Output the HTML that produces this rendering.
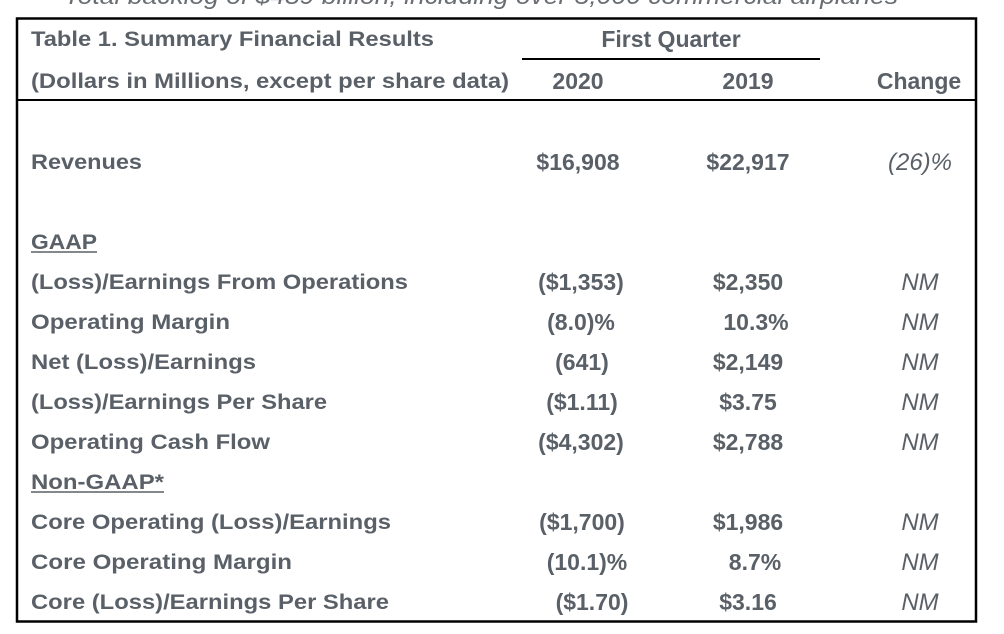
<!DOCTYPE html>
<html><head><meta charset="utf-8"><style>
html,body{margin:0;padding:0;background:#fff;width:1004px;height:634px;overflow:hidden}
svg{display:block}
text{font-family:"Liberation Sans",Arial,sans-serif;fill:#5a6067;font-weight:bold;font-size:23px}
.l{font-size:21.5px}
.i{font-style:italic;font-weight:normal;font-size:24px}
.m{text-anchor:middle}
</style></head><body>
<svg width="1004" height="634" viewBox="0 0 1004 634">
<text class="i" x="40" y="4" style="fill:#6a6e73">•</text>
<text class="i" x="64" y="4" textLength="834" lengthAdjust="spacingAndGlyphs" style="fill:#6a6e73">Total backlog of $489 billion, including over 5,000 commercial airplanes</text>
<rect x="17" y="18.5" width="959" height="603" fill="none" stroke="#000" stroke-width="2.5"/>
<line x1="17" y1="100" x2="976" y2="100" stroke="#000" stroke-width="2"/>
<line x1="522" y1="59" x2="820" y2="59" stroke="#000" stroke-width="2"/>
<text class="l" x="31" y="46" textLength="403" lengthAdjust="spacingAndGlyphs">Table 1. Summary Financial Results</text>
<text class="m" x="671" y="47">First Quarter</text>
<text class="l" x="31" y="88" textLength="478" lengthAdjust="spacingAndGlyphs">(Dollars in Millions, except per share data)</text>
<text class="m" x="578" y="89">2020</text>
<text class="m" x="748" y="89">2019</text>
<text class="m" x="919" y="89">Change</text>

<text class="l" x="31" y="169" textLength="111" lengthAdjust="spacingAndGlyphs">Revenues</text>
<text class="m" x="578" y="170">$16,908</text>
<text class="m" x="748" y="170">$22,917</text>
<text class="i m" x="920" y="170">(26)%</text>

<text class="l" x="31" y="249" textLength="66" lengthAdjust="spacingAndGlyphs">GAAP</text>
<line x1="31" y1="252" x2="97" y2="252" stroke="#5a6067" stroke-width="1.5"/>

<text class="l" x="31" y="289" textLength="377" lengthAdjust="spacingAndGlyphs">(Loss)/Earnings From Operations</text>
<text class="m" x="581" y="290">($1,353)</text>
<text class="m" x="748" y="290">$2,350</text>
<text class="i m" x="920" y="290">NM</text>

<text class="l" x="31" y="329" textLength="199" lengthAdjust="spacingAndGlyphs">Operating Margin</text>
<text class="m" x="581" y="330">(8.0)%</text>
<text class="m" x="756" y="330">10.3%</text>
<text class="i m" x="920" y="330">NM</text>

<text class="l" x="31" y="369" textLength="225" lengthAdjust="spacingAndGlyphs">Net (Loss)/Earnings</text>
<text class="m" x="582" y="370">(641)</text>
<text class="m" x="748" y="370">$2,149</text>
<text class="i m" x="920" y="370">NM</text>

<text class="l" x="31" y="409" textLength="296" lengthAdjust="spacingAndGlyphs">(Loss)/Earnings Per Share</text>
<text class="m" x="582" y="410">($1.11)</text>
<text class="m" x="748" y="410">$3.75</text>
<text class="i m" x="920" y="410">NM</text>

<text class="l" x="31" y="449" textLength="239" lengthAdjust="spacingAndGlyphs">Operating Cash Flow</text>
<text class="m" x="581" y="450">($4,302)</text>
<text class="m" x="748" y="450">$2,788</text>
<text class="i m" x="920" y="450">NM</text>

<text class="l" x="31" y="489" textLength="133" lengthAdjust="spacingAndGlyphs">Non-GAAP*</text>
<line x1="31" y1="492" x2="164" y2="492" stroke="#5a6067" stroke-width="1.5"/>

<text class="l" x="31" y="529" textLength="360" lengthAdjust="spacingAndGlyphs">Core Operating (Loss)/Earnings</text>
<text class="m" x="582" y="530">($1,700)</text>
<text class="m" x="748" y="530">$1,986</text>
<text class="i m" x="920" y="530">NM</text>

<text class="l" x="31" y="569" textLength="261" lengthAdjust="spacingAndGlyphs">Core Operating Margin</text>
<text class="m" x="587" y="570">(10.1)%</text>
<text class="m" x="755" y="570">8.7%</text>
<text class="i m" x="920" y="570">NM</text>

<text class="l" x="31" y="609" textLength="358" lengthAdjust="spacingAndGlyphs">Core (Loss)/Earnings Per Share</text>
<text class="m" x="592" y="610">($1.70)</text>
<text class="m" x="748" y="610">$3.16</text>
<text class="i m" x="920" y="610">NM</text>
</svg>
</body></html>
